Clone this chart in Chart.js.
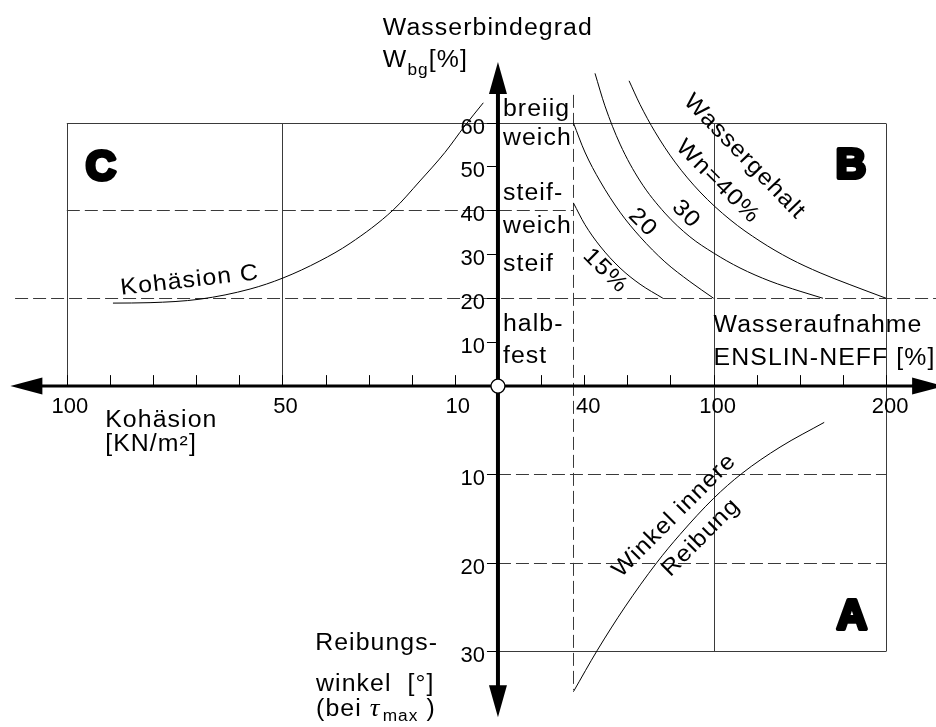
<!DOCTYPE html>
<html lang="de">
<head>
<meta charset="utf-8">
<title>Wasserbindegrad – Wasseraufnahme – Kohäsion – Reibungswinkel</title>
<script src="https://cdn.jsdelivr.net/npm/chart.js@4.4.1/dist/chart.umd.min.js"></script>
<style>
  html, body { margin: 0; padding: 0; background: #fff; }
  canvas { display: block; }
</style>
</head>
<body>
<canvas id="chart" width="936" height="727"></canvas>
<script>
const FONT = "'Liberation Sans', Arial, Helvetica, sans-serif";

// ---------------- data ----------------
// Quadrant C: Kohäsion [kN/m²] over Wasserbindegrad Wbg [%]
const cohesionKN  = [89.3, 80.7, 69.1, 57.5, 49.9, 41.3, 34.3, 24.3, 18.1, 12.3, 7.65, 3.4];
const cohesionWbg = [18.9, 19.0, 19.8, 22.1, 24.6, 28.5, 32.5, 40.1, 46.7, 53.2, 59.3, 64.5];

// Quadrant B: Wasseraufnahme (ENSLIN-NEFF) [%] over Wbg [%], one curve per Wassergehalt Wn
const wn15Uptake = [35, 40.3, 47.3, 56.6, 65.9, 76.5];
const wn15Wbg    = [41.7, 36.8, 31.9, 26.9, 23.2, 20];
const wn20Uptake = [35, 40.3, 47.3, 56.6, 65.9, 77.4, 89.0, 100];
const wn20Wbg    = [59.9, 53.3, 46.7, 39.6, 34.0, 28.3, 23.8, 20];
const wn30Uptake = [45.0, 49.6, 56.6, 65.9, 77.4, 89.0, 100, 115.3, 132.7, 150.1, 163.4];
const wn30Wbg    = [71.2, 63.8, 55.1, 46.7, 39.4, 34.0, 30.3, 26.9, 23.9, 21.6, 20];
const wn40Uptake = [60.8, 65.9, 72.8, 82.1, 93.7, 109.5, 126.9, 144.3, 161.7, 179.0, 200];
const wn40Wbg    = [69.5, 64.1, 57.9, 51.0, 44.2, 37.9, 33.0, 29.0, 25.8, 23.1, 20];

// Quadrant A: Wasseraufnahme [%] over Winkel der inneren Reibung [°]
const frictionUptake = [35, 46.1, 58.9, 73.6, 84.4, 100, 116.3, 138.5, 164.1];
const frictionAngle  = [34.6, 29.9, 25.0, 20.0, 16.8, 12.7, 9.9, 6.9, 4.1];

// ticks and tick labels
const wbgTicks           = [10, 20, 30, 40, 50, 60];
const frictionTicks      = [10, 20, 30];
const cohesionTicks      = [10, 20, 30, 40, 50, 60, 70, 80, 90, 100];
const cohesionTickLabels = [10, 50, 100];
const uptakeTicks        = [20, 40, 60, 80, 100, 125, 150, 175, 200];
const uptakeTickLabels   = [40, 100, 200];

// consistency states along the Wbg axis
const consistencyNames = ['breiig', 'weich', 'steif-', 'weich', 'steif', 'halb-', 'fest'];
const consistencyWbg   = [61.4, 54.9, 42.4, 34.8, 26.1, 12.6, 5.3];

// ---------------- Wasseraufnahme axis ----------------
// 20 % per division up to 100 %, 25 % per division above (value, division)
const uptakeBreaks = [[0, 0], [100, 5], [200, 9]];

function piecewise(v, pts, from, to) {
  let i = 0;
  while (i < pts.length - 2 && v > pts[i + 1][from]) i++;
  const a = pts[i], b = pts[i + 1];
  return a[to] + (v - a[from]) * (b[to] - a[to]) / (b[from] - a[from]);
}
const uptakeToDiv = v => piecewise(v, uptakeBreaks, 0, 1);
const divToUptake = d => piecewise(d, uptakeBreaks, 1, 0);

class BrokenLinearScale extends Chart.LinearScale {
  getPixelForValue(value) {
    if (value === null || value === undefined) return NaN;
    const a = uptakeToDiv(this.min), b = uptakeToDiv(this.max);
    return this.getPixelForDecimal((uptakeToDiv(value) - a) / (b - a));
  }
  getValueForPixel(pixel) {
    const a = uptakeToDiv(this.min), b = uptakeToDiv(this.max);
    return divToUptake(a + this.getDecimalForPixel(pixel) * (b - a));
  }
}
BrokenLinearScale.id = 'brokenLinear';
BrokenLinearScale.defaults = {};
Chart.register(BrokenLinearScale);

// ---------------- drawing helpers ----------------
// The lettering is a slightly widened sans serif.
function drawText(ctx, text, x, y, o = {}) {
  const spacing = o.spacing ?? 1;
  ctx.save();
  ctx.translate(x, y);
  if (o.rotate) ctx.rotate(o.rotate * Math.PI / 180);
  ctx.scale(o.sx ?? 1.08, 1);
  ctx.font = `${o.style || 'normal'} ${o.weight || 'normal'} ${o.size || 23}px ${o.family || FONT}`;
  if ('letterSpacing' in ctx) ctx.letterSpacing = spacing + 'px';
  ctx.textAlign = o.align || 'left';
  ctx.textBaseline = o.baseline || 'alphabetic';
  ctx.fillStyle = '#000';
  const dx = (o.align === 'center') ? spacing / 2 : 0;
  if (o.stroke) {
    ctx.lineWidth = o.stroke;
    ctx.lineJoin = 'round';
    ctx.strokeStyle = '#000';
    ctx.strokeText(text, dx, 0);
  }
  ctx.fillText(text, dx, 0);
  ctx.restore();
}

function drawRuns(ctx, runs, x, y) {
  ctx.save();
  ctx.translate(x, y);
  ctx.scale(1.08, 1);
  ctx.fillStyle = '#000';
  ctx.textAlign = 'left';
  ctx.textBaseline = 'alphabetic';
  let cx = 0;
  for (const r of runs) {
    ctx.font = `${r.style || 'normal'} normal ${r.size || 23}px ${r.family || FONT}`;
    if ('letterSpacing' in ctx) ctx.letterSpacing = (r.spacing ?? 1) + 'px';
    ctx.fillText(r.text, cx, r.dy || 0);
    cx += ctx.measureText(r.text).width + (r.gap || 0);
  }
  ctx.restore();
}

// guide lines of the nomogram (in axis units)
const guides = {
  boundaryUptake: 35,      // vertical dashed line
  boundaryTopWbg: 66.3,
  boundaryBottomAngle: 34.4,
  dashedLeftCohesion: 112
};
// arrow tips of the four half axes
const axisEnds = { wbg: 73.8, friction: 37.5, cohesion: 113.1, uptake: 233.6 };

const nomogram = {
  id: 'nomogram',
  beforeDatasetsDraw(chart) {
    const { ctx, scales: s, chartArea: area } = chart;
    const kx = v => s.xK.getPixelForValue(v), wx = v => s.xW.getPixelForValue(v);
    const wy = v => s.yW.getPixelForValue(v), ry = v => s.yR.getPixelForValue(v);
    const crisp = p => Math.round(p) + 0.5;
    const seg = (x1, y1, x2, y2) => { ctx.beginPath(); ctx.moveTo(x1, y1); ctx.lineTo(x2, y2); ctx.stroke(); };

    ctx.save();
    ctx.strokeStyle = '#3a3a3a';
    ctx.lineWidth = 1;
    // quadrant frames
    const top = crisp(wy(60));
    seg(kx(100), top, wx(200), top);
    [kx(100), kx(50)].forEach(x => seg(crisp(x), top, crisp(x), wy(0)));
    [wx(100), wx(200)].forEach(x => seg(crisp(x), top, crisp(x), crisp(ry(30))));
    seg(wx(0), crisp(ry(30)), wx(200), crisp(ry(30)));

    // dashed guides
    ctx.setLineDash([13, 5]);
    seg(kx(100), crisp(wy(40)), wx(guides.boundaryUptake), crisp(wy(40)));
    seg(kx(guides.dashedLeftCohesion), crisp(wy(20)), area.right, crisp(wy(20)));
    [10, 20].forEach(v => seg(wx(0), crisp(ry(v)), wx(200), crisp(ry(v))));
    const bx = crisp(wx(guides.boundaryUptake));
    seg(bx, wy(guides.boundaryTopWbg), bx, ry(guides.boundaryBottomAngle));
    ctx.restore();
  },
  afterDatasetsDraw(chart) {
    const { ctx, scales: s } = chart;
    const kx = v => s.xK.getPixelForValue(v), wx = v => s.xW.getPixelForValue(v);
    const wy = v => s.yW.getPixelForValue(v), ry = v => s.yR.getPixelForValue(v);
    const crisp = p => Math.round(p) + 0.5;
    const seg = (x1, y1, x2, y2) => { ctx.beginPath(); ctx.moveTo(x1, y1); ctx.lineTo(x2, y2); ctx.stroke(); };
    const arrow = (tx, ty, dx, dy, len, half) => {
      const bx = tx - dx * len, by = ty - dy * len;
      ctx.beginPath();
      ctx.moveTo(tx, ty);
      ctx.lineTo(bx - dy * half, by + dx * half);
      ctx.lineTo(bx + dy * half, by - dx * half);
      ctx.closePath();
      ctx.fill();
    };
    const ox = wx(0), oy = wy(0);

    ctx.save();
    ctx.strokeStyle = '#000';
    ctx.fillStyle = '#000';

    // axes
    ctx.lineWidth = 3;
    seg(kx(axisEnds.cohesion) + 20, oy, wx(axisEnds.uptake) - 20, oy);
    ctx.lineWidth = 4;
    seg(ox, wy(axisEnds.wbg) + 20, ox, ry(axisEnds.friction) - 20);
    arrow(ox, wy(axisEnds.wbg), 0, -1, 32, 9);
    arrow(ox, ry(axisEnds.friction), 0, 1, 32, 9);
    arrow(kx(axisEnds.cohesion), oy, -1, 0, 32, 8.5);
    arrow(wx(axisEnds.uptake), oy, 1, 0, 32, 8.5);

    // tick marks
    ctx.lineWidth = 1;
    wbgTicks.forEach(v => { const y = crisp(wy(v)); seg(ox - 11, y, ox, y); });
    frictionTicks.forEach(v => { const y = crisp(ry(v)); seg(ox - 11, y, ox, y); });
    cohesionTicks.forEach(v => { const x = crisp(kx(v)); seg(x, oy - 11, x, oy); });
    uptakeTicks.forEach(v => { const x = crisp(wx(v)); seg(x, oy - 11, x, oy); });

    // origin
    ctx.beginPath();
    ctx.arc(ox, oy, 7, 0, Math.PI * 2);
    ctx.fillStyle = '#fff';
    ctx.fill();
    ctx.lineWidth = 1.3;
    ctx.stroke();
    ctx.restore();

    // tick labels
    const tickFont = { size: 22, spacing: 0, sx: 1 };
    wbgTicks.forEach(v => drawText(ctx, String(v), ox - 13, wy(v) + 11, { ...tickFont, align: 'right' }));
    frictionTicks.forEach(v => drawText(ctx, String(v), ox - 13, ry(v) + 11, { ...tickFont, align: 'right' }));
    cohesionTickLabels.forEach(v => drawText(ctx, String(v), kx(v) + 3, oy + 27, { ...tickFont, align: 'center' }));
    uptakeTickLabels.forEach(v => drawText(ctx, String(v), wx(v) + 4, oy + 27, { ...tickFont, align: 'center' }));

    // axis titles
    drawText(ctx, 'Wasserbindegrad', kx(26.7), wy(80.0));
    drawRuns(ctx, [
      { text: 'W' },
      { text: 'bg', size: 16, dy: 8 },
      { text: '[%]' }
    ], kx(26.7), wy(72.7));
    drawText(ctx, 'Wasseraufnahme', wx(100), wy(12.4));
    drawText(ctx, 'ENSLIN-NEFF [%]', wx(100), wy(4.8));
    drawText(ctx, 'Kohäsion', kx(91.1), ry(4.6));
    drawText(ctx, '[KN/m²]', kx(91.1), ry(7.3));
    drawText(ctx, 'Reibungs-', kx(42.4), ry(29.9));
    drawText(ctx, 'winkel  [°]', kx(42.2), ry(34.5));
    drawRuns(ctx, [
      { text: '(bei ' },
      { text: 'τ', style: 'italic', family: "'Liberation Serif', 'DejaVu Serif', serif", size: 25, gap: 2 },
      { text: 'max', size: 16, dy: 5 },
      { text: ' )' }
    ], kx(42.2), ry(37.4));

    // consistency states
    consistencyNames.forEach((t, i) => drawText(ctx, t, ox + 5, wy(consistencyWbg[i])));

    // quadrant letters
    const big = { size: 42, weight: 'bold', stroke: 4, spacing: 0, sx: 1 };
    drawText(ctx, 'C', kx(95.6), wy(46.9), big);
    drawText(ctx, 'B', wx(170.8), wy(47.3), big);
    drawText(ctx, 'A', wx(171.4), ry(27.5), big);

    // curve labels
    const mid = { align: 'center', baseline: 'middle' };
    drawText(ctx, 'Kohäsion C', kx(71.6), wy(24.0), { ...mid, rotate: -6.5 });
    drawText(ctx, 'Wassergehalt', wx(117.6), wy(52.3), { ...mid, rotate: 46 });
    drawText(ctx, 'Wn=40%', wx(102.1), wy(46.6), { ...mid, rotate: 45 });
    drawText(ctx, '30', wx(87.0), wy(39.2), { ...mid, rotate: 45 });
    drawText(ctx, '20', wx(66.9), wy(37.3), { ...mid, rotate: 45 });
    drawText(ctx, '15%', wx(49.6), wy(26.3), { ...mid, rotate: 45 });
    drawText(ctx, 'Winkel innere', wx(81.6), ry(14.7), { ...mid, rotate: -45 });
    drawText(ctx, 'Reibung', wx(94.0), ry(17.2), { ...mid, rotate: -45 });
  }
};

const curve = (xs, ys) => xs.map((x, i) => ({ x, y: ys[i] }));
const lineStyle = {
  borderColor: '#000',
  borderWidth: 1,
  pointRadius: 0,
  fill: false,
  cubicInterpolationMode: 'monotone'
};

new Chart(document.getElementById('chart'), {
  type: 'line',
  data: {
    datasets: [
      { label: 'Kohäsion C', data: curve(cohesionKN, cohesionWbg), xAxisID: 'xK', yAxisID: 'yW', ...lineStyle },
      { label: 'Wn = 15 %', data: curve(wn15Uptake, wn15Wbg), xAxisID: 'xW', yAxisID: 'yW', ...lineStyle },
      { label: 'Wn = 20 %', data: curve(wn20Uptake, wn20Wbg), xAxisID: 'xW', yAxisID: 'yW', ...lineStyle },
      { label: 'Wn = 30 %', data: curve(wn30Uptake, wn30Wbg), xAxisID: 'xW', yAxisID: 'yW', ...lineStyle },
      { label: 'Wn = 40 %', data: curve(wn40Uptake, wn40Wbg), xAxisID: 'xW', yAxisID: 'yW', ...lineStyle },
      { label: 'Winkel innere Reibung', data: curve(frictionUptake, frictionAngle), xAxisID: 'xW', yAxisID: 'yR', ...lineStyle }
    ]
  },
  options: {
    responsive: false,
    animation: false,
    devicePixelRatio: 1,
    events: [],
    layout: { padding: 0 },
    plugins: { legend: { display: false }, tooltip: { enabled: false }, title: { display: false } },
    scales: {
      // Kohäsion grows to the left of the origin
      xK: { type: 'linear', axis: 'x', reverse: true, min: -101.6, max: 115.5, bounds: 'data', display: false },
      // Wasseraufnahme grows to the right of the origin
      xW: { type: 'brokenLinear', axis: 'x', min: -230.9, max: 228.9, bounds: 'data', display: false },
      // Wasserbindegrad upwards
      yW: { type: 'linear', axis: 'y', min: -77.6, max: 87.9, bounds: 'data', display: false },
      // Reibungswinkel downwards
      yR: { type: 'linear', axis: 'y', reverse: true, min: -43.74, max: 38.6, bounds: 'data', display: false }
    }
  },
  plugins: [nomogram]
});
</script>
</body>
</html>
